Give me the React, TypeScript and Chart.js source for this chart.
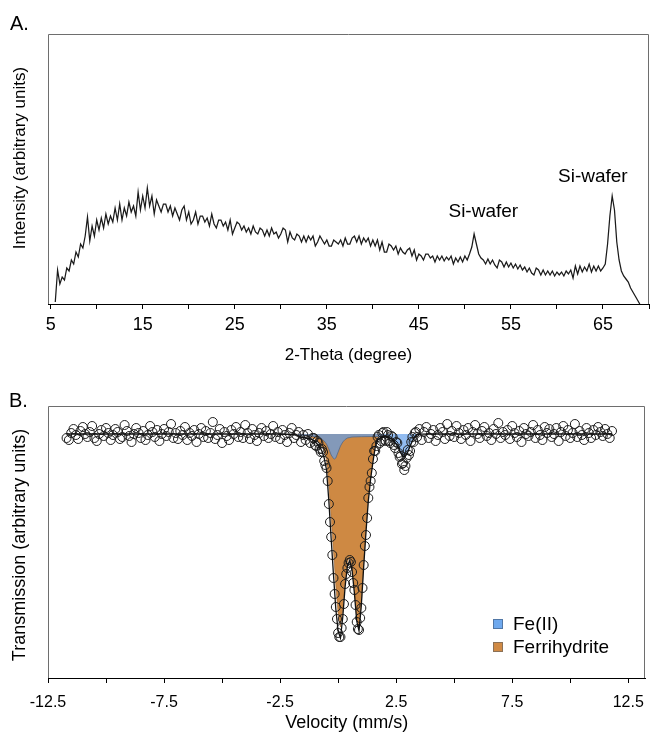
import React, { useEffect, useRef } from "react";
import { Chart, registerables } from "chart.js";

Chart.register(...registerables);

const FONT = "'Liberation Sans', Arial, Helvetica, sans-serif";

/* ================= Panel A : XRD pattern ================= */
const TWO_THETA_START = 5.5;
const TWO_THETA_STEP = 0.25;
const XRD_INTENSITY = [
  2, 34, 20, 27, // 5.5
  24, 36, 33, 44, // 6.5
  40, 52, 47, 60, // 7.5
  56, 68, 87, 63, // 8.5
  78, 68, 84, 74, // 9.5
  86, 76, 90, 80, // 10.5
  88, 82, 96, 84, // 11.5
  100, 84, 96, 88, // 12.5
  102, 92, 98, 88, // 13.5
  112, 94, 108, 96, // 14.5
  116, 98, 108, 90, // 15.5
  104, 98, 92, 100, // 16.5
  100, 92, 98, 88, // 17.5
  96, 90, 84, 94, // 18.5
  98, 84, 92, 80, // 19.5
  84, 92, 80, 88, // 20.5
  88, 82, 86, 78, // 21.5
  90, 80, 76, 84, // 22.5
  84, 78, 82, 74, // 23.5
  84, 70, 76, 82, // 24.5
  80, 74, 78, 72, // 25.5
  76, 70, 78, 72, // 26.5
  70, 76, 74, 68, // 27.5
  74, 68, 76, 70, // 28.5
  72, 66, 70, 76, // 29.5
  74, 62, 72, 66, // 30.5
  64, 70, 68, 62, // 31.5
  68, 62, 68, 64, // 32.5
  68, 58, 62, 68, // 33.5
  64, 60, 64, 58, // 34.5
  58, 64, 62, 60, // 35.5
  64, 58, 66, 60, // 36.5
  60, 66, 68, 62, // 37.5
  68, 60, 66, 62, // 38.5
  66, 58, 64, 58, // 39.5
  64, 54, 62, 52, // 40.5
  52, 60, 58, 54, // 41.5
  58, 50, 56, 52, // 42.5
  50, 54, 56, 48, // 43.5
  54, 44, 50, 48, // 44.5
  44, 50, 50, 46, // 45.5
  48, 42, 48, 44, // 46.5
  48, 43, 47, 44, // 47.5
  48, 40, 46, 42, // 48.5
  47, 42, 48, 44, // 49.5
  50, 57, 70, 60, // 50.5
  50, 46, 44, 40, // 51.5
  45, 40, 44, 39, // 52.5
  36, 44, 42, 37, // 53.5
  42, 37, 41, 36, // 54.5
  40, 35, 39, 34, // 55.5
  37, 32, 36, 31, // 56.5
  29, 36, 34, 29, // 57.5
  34, 29, 33, 29, // 58.5
  33, 28, 32, 29, // 59.5
  32, 28, 33, 30, // 60.5
  34, 26, 38, 30, // 61.5
  38, 32, 37, 33, // 62.5
  40, 32, 38, 33, // 63.5
  38, 33, 36, 40, // 64.5
  60, 88, 108, 94, // 65.5
  62, 44, 33, 28, // 66.5
  25, 22, 16, 12, // 67.5
  8, 4, 0, // 68.5
];
const XRD_TICKS = [5, 10, 15, 20, 25, 30, 35, 40, 45, 50, 55, 60, 65, 70];
const XRD_TICK_LABELS = ["5", "", "15", "", "25", "", "35", "", "45", "", "55", "", "65", ""];
const SI_LABEL_TEXT = ["Si-wafer", "Si-wafer"];
const SI_LABEL_THETA = [52.0, 63.9];
const SI_LABEL_INTENSITY = [92, 127];

/* ================= Panel B : Mössbauer spectrum ================= */
const BASELINE = 244;
const VELOCITY_START = -11.7;
const VELOCITY_STEP = 0.1;
const TRANSMISSION = [
  240, 238, 245, 249, 243, 239, 247, 251, 244, 241,
  246, 252, 240, 237, 244, 248, 242, 250, 245, 238,
  243, 249, 246, 239, 241, 253, 247, 242, 236, 244,
  250, 245, 240, 247, 238, 243, 252, 246, 241, 248,
  237, 244, 249, 242, 246, 254, 240, 245, 239, 247,
  243, 251, 238, 245, 242, 248, 236, 244, 250, 241,
  247, 240, 245, 256, 239, 243, 249, 235, 246, 242,
  238, 248, 244, 251, 241, 246, 240, 253, 245, 239,
  249, 243, 237, 245, 250, 242, 247, 240, 244, 252,
  241, 246, 239, 248, 243, 236, 245, 250, 240, 243,
  246, 236, 243, 238, 244, 235, 240, 233, 237, 229,
  229, 217, 210, 174, 141, 100, 71, 45, 41, 59,
  94, 110, 118, 106, 88, 56, 48, 70, 113, 143,
  180, 197, 219, 227, 241, 235, 245, 238, 246, 237,
  242, 233, 236, 225, 222, 215, 212, 228, 227, 241,
  245, 241, 249, 238, 246, 251, 240, 244, 248, 237,
  243, 250, 246, 239, 254, 242, 247, 241, 252, 245,
  239, 248, 243, 250, 237, 246, 253, 244, 240, 247,
  251, 242, 245, 238, 249, 244, 255, 240, 246, 243,
  248, 239, 252, 245, 241, 247, 236, 250, 244, 242,
  246, 253, 240, 248, 243, 238, 251, 245, 249, 241,
  244, 250, 237, 246, 252, 242, 248, 240, 245, 254,
  241, 247, 243, 238, 250, 245, 240, 248, 243, 251,
  246, 242, 249, 244, 240, 247,
];
const MID_VELOCITY = [
  -1.05, -0.95, -0.85, -0.75, -0.65, -0.55, -0.45, -0.35, -0.25, -0.15,
  -0.05, 0.05, 0.15, 0.25, 0.35, 0.45, 0.55, 0.65, 0.75, 0.85,
  0.95, 1.05, 1.15, 1.25, 1.35, 1.45, 1.55, 1.65, 1.75, 1.85,
  1.95, 2.05, 2.15, 2.25, 2.35, 2.45, 2.55, 2.65, 2.75, 2.85,
  2.95, 3.05, 3.15, 3.25, 3.35,
];
const MID_TRANSMISSION = [
  240, 232, 235, 226, 226, 213, 197, 156, 123, 84,
  59, 41, 50, 74, 104, 115, 116, 95, 73, 49,
  60, 90, 132, 160, 191, 205, 227, 232, 243, 237,
  246, 237, 243, 235, 241, 230, 235, 221, 214, 208,
  220, 223, 236, 236, 246,
];
const FIT_VELOCITY = [
  -11.7, -2.5, -2.0, -1.8,
  -1.7, -1.6, -1.5, -1.4, -1.3, -1.2, -1.1, -1.0, -0.9, -0.8,
  -0.7, -0.6, -0.5, -0.4, -0.3, -0.2, -0.1, 0.0, 0.1, 0.2,
  0.3, 0.4, 0.5, 0.6, 0.7, 0.8, 0.9, 1.0, 1.1, 1.2,
  1.3, 1.4, 1.5, 1.6, 1.7, 1.8, 1.9, 2.0, 2.1, 2.2,
  2.3, 2.4, 2.5, 2.6, 2.7, 2.8, 2.9, 3.0, 3.1, 3.2,
  3.3, 3.4,
  3.6, 4.0, 5.0, 11.8,
];
const FIT_TRANSMISSION = [
  244, 244, 243.5, 243,
  242, 241, 240.5, 240, 239.5, 239, 238, 236.5, 234, 231,
  227, 220, 208, 177, 139, 103, 69, 47, 40, 61,
  91, 112, 117.5, 108, 85, 57, 47, 73, 111, 146,
  177, 199, 216, 231, 238, 240, 241, 241, 241, 240.5,
  239, 237, 234, 230, 225, 221, 222, 226, 232, 237,
  241, 243.5,
  243.8, 244, 244, 244,
];
const FERRI_VELOCITY = [
  -1.75, -1.7, -1.6, -1.5, -1.4, -1.3, -1.2, -1.1, -1.0, -0.9,
  -0.8, -0.7, -0.6, -0.5, -0.4, -0.3, -0.2, -0.1, 0.0, 0.1,
  0.2, 0.3, 0.4, 0.5, 0.6, 0.7, 0.8, 0.9, 1.0, 1.1,
  1.2, 1.3, 1.4, 1.5, 1.6, 1.7, 1.8, 1.9, 2.0,
];
const FERRI_TRANSMISSION = [
  244, 243.5, 243, 242.5, 242, 241.5, 241, 240, 239, 237,
  235, 232, 227, 218, 192, 160, 126, 92, 64, 51,
  68, 96, 116, 121, 111, 88, 60, 50, 76, 114,
  149, 180, 202, 219, 234, 241, 243, 243.5, 244,
];
const FE2_VELOCITY = [
  -1.75, -1.7, -1.4, -1.0, -0.9, -0.8, -0.7, -0.6, -0.5, -0.4,
  -0.3, -0.2, -0.15, -0.1, 0.0, 0.1, 0.2, 0.3, 0.4, 0.5,
  0.6, 1.0, 1.5, 1.9, 2.0, 2.1, 2.2, 2.3, 2.4, 2.5,
  2.6, 2.7, 2.8, 2.85, 2.9, 3.0, 3.1, 3.2, 3.3, 3.35,
  3.4,
];
const FE2_TRANSMISSION = [
  244, 242.5, 242, 241.5, 241, 240, 239, 237, 234, 229,
  223, 219.5, 219, 220, 226, 232, 236, 238.5, 240, 240.5,
  241, 241.3, 241.5, 241.5, 241, 241, 240.5, 239, 237, 234,
  230, 225, 221, 220.5, 221.5, 226, 232, 237, 241, 243,
  244,
];
const VELOCITY_TICKS = [-12.5, -10, -7.5, -5, -2.5, 0, 2.5, 5, 7.5, 10, 12.5];
const VELOCITY_TICK_LABELS = ["-12.5", "", "-7.5", "", "-2.5", "", "2.5", "", "7.5", "", "12.5"];
const LEGEND_LABELS = ["Fe(II)", "Ferrihydrite"];
const LEGEND_COLORS = ["#6fa9ee", "#d08a45"];
const LEGEND_BORDERS = ["#5177a6", "#8b7157"];

const FERRI_FILL = "rgb(206,137,67)";
const FE2_FILL = "rgba(100,160,235,0.7)";

function drawBox(chart: any) {
  const { ctx, chartArea } = chart;
  const { left, right, top, bottom } = chartArea;
  ctx.save();
  ctx.strokeStyle = "#6e6e6e";
  ctx.lineWidth = 1;
  ctx.beginPath();
  ctx.moveTo(Math.round(left) + 0.5, bottom);
  ctx.lineTo(Math.round(left) + 0.5, Math.round(top) + 0.5);
  ctx.lineTo(Math.round(right) - 0.5, Math.round(top) + 0.5);
  ctx.lineTo(Math.round(right) - 0.5, bottom);
  ctx.stroke();
  ctx.restore();
}

function verticalText(ctx: CanvasRenderingContext2D, text: string, x: number, y: number, size: number) {
  ctx.save();
  ctx.translate(x, y);
  ctx.rotate(-Math.PI / 2);
  ctx.font = `${size}px ${FONT}`;
  ctx.textAlign = "center";
  ctx.textBaseline = "middle";
  ctx.fillStyle = "#000";
  ctx.fillText(text, 0, 0);
  ctx.restore();
}

const panelAPlugin = {
  id: "panelA",
  beforeDatasetsDraw(chart: any) {
    drawBox(chart);
  },
  afterDraw(chart: any) {
    const { ctx, chartArea, scales } = chart;
    ctx.save();
    ctx.fillStyle = "#000";
    ctx.font = `20px ${FONT}`;
    ctx.textAlign = "left";
    ctx.textBaseline = "alphabetic";
    ctx.fillText("A.", 10, 30);
    ctx.font = `17px ${FONT}`;
    ctx.textAlign = "center";
    ctx.textBaseline = "middle";
    ctx.fillText("2-Theta (degree)", (chartArea.left + chartArea.right) / 2, 355);
    ctx.font = `19px ${FONT}`;
    SI_LABEL_TEXT.forEach((t, i) => {
      const x = scales.x.getPixelForValue(SI_LABEL_THETA[i]);
      const y = scales.y.getPixelForValue(SI_LABEL_INTENSITY[i]);
      ctx.fillText(t, x, y);
    });
    ctx.restore();
    verticalText(ctx, "Intensity (arbitrary units)", 20, 158, 17);
  },
};

const panelBPlugin = {
  id: "panelB",
  beforeDatasetsDraw(chart: any) {
    drawBox(chart);
  },
  afterDraw(chart: any) {
    const { ctx, chartArea } = chart;
    ctx.save();
    ctx.fillStyle = "#000";
    ctx.font = `20px ${FONT}`;
    ctx.textAlign = "left";
    ctx.textBaseline = "alphabetic";
    ctx.fillText("B.", 9, 37);
    ctx.font = `18px ${FONT}`;
    ctx.textAlign = "center";
    ctx.textBaseline = "middle";
    ctx.fillText("Velocity (mm/s)", (chartArea.left + chartArea.right) / 2, 353);
    ctx.font = `19px ${FONT}`;
    ctx.textAlign = "left";
    LEGEND_LABELS.forEach((label, i) => {
      const sy = 249 + i * 23;
      ctx.fillStyle = LEGEND_COLORS[i];
      ctx.fillRect(493, sy, 10, 10);
      ctx.strokeStyle = LEGEND_BORDERS[i];
      ctx.lineWidth = 1;
      ctx.strokeRect(493.5, sy + 0.5, 9, 9);
      ctx.fillStyle = "#000";
      ctx.fillText(label, 513, sy + 6);
    });
    ctx.restore();
    verticalText(ctx, "Transmission (arbitrary units)", 20, 175, 18);
  },
};

export default function App() {
  const aRef = useRef<HTMLCanvasElement>(null);
  const bRef = useRef<HTMLCanvasElement>(null);

  useEffect(() => {
    const xrdPoints = XRD_INTENSITY.map((y, i) => ({
      x: Math.round((TWO_THETA_START + i * TWO_THETA_STEP) * 1000) / 1000,
      y,
    }));

    const chartA = new Chart(aRef.current as HTMLCanvasElement, {
      type: "line",
      data: {
        datasets: [
          {
            data: xrdPoints as any,
            borderColor: "#1a1a1a",
            borderWidth: 1.25,
            pointRadius: 0,
            tension: 0,
            fill: false,
          },
        ],
      },
      options: {
        responsive: false,
        animation: false,
        devicePixelRatio: 1,
        events: [],
        layout: { padding: { left: 48, right: 4, top: 34, bottom: 0 } },
        plugins: { legend: { display: false }, tooltip: { enabled: false } },
        scales: {
          x: {
            type: "linear",
            min: 4.71,
            max: 70,
            afterBuildTicks: (s: any) => {
              s.ticks = XRD_TICKS.map((v) => ({ value: v }));
            },
            afterFit: (s: any) => {
              s.height = 66;
            },
            grid: { drawOnChartArea: false, drawTicks: true, tickLength: 5, color: "#000", lineWidth: 1 },
            border: { display: true, color: "#000", width: 1 },
            ticks: {
              autoSkip: false,
              maxRotation: 0,
              padding: 5,
              color: "#000",
              font: { family: FONT, size: 18 },
              callback: (_v: any, i: number) => XRD_TICK_LABELS[i] ?? "",
            },
          },
          y: { display: false, min: 0, max: 270 },
        },
      },
      plugins: [panelAPlugin],
    });

    const gridPoints = TRANSMISSION.map((y, i) => ({
      x: Math.round((VELOCITY_START + i * VELOCITY_STEP) * 1000) / 1000,
      y,
    }));
    const midPoints = MID_VELOCITY.map((x, i) => ({ x, y: MID_TRANSMISSION[i] }));
    const fitPoints = FIT_VELOCITY.map((x, i) => ({ x, y: FIT_TRANSMISSION[i] }));
    const ferriPoints = FERRI_VELOCITY.map((x, i) => ({ x, y: FERRI_TRANSMISSION[i] }));
    const fe2Points = FE2_VELOCITY.map((x, i) => ({ x, y: FE2_TRANSMISSION[i] }));

    const chartB = new Chart(bRef.current as HTMLCanvasElement, {
      type: "line",
      data: {
        datasets: [
          {
            label: "fit",
            data: fitPoints as any,
            borderColor: "#111",
            borderWidth: 1.3,
            pointRadius: 0,
            tension: 0,
            fill: false,
            order: 0,
          },
          {
            label: "data",
            data: [...gridPoints, ...midPoints] as any,
            showLine: false,
            pointRadius: 4.5,
            pointBorderWidth: 1,
            pointBorderColor: "#1e1e1e",
            pointBackgroundColor: "rgba(0,0,0,0)",
            fill: false,
            order: 1,
          },
          {
            label: "Fe(II)",
            data: fe2Points as any,
            borderColor: "rgba(85,105,135,0.8)",
            borderWidth: 1,
            backgroundColor: FE2_FILL,
            pointRadius: 0,
            tension: 0,
            fill: { value: BASELINE },
            order: 2,
          },
          {
            label: "Ferrihydrite",
            data: ferriPoints as any,
            borderColor: "rgba(160,100,45,0.7)",
            borderWidth: 0.8,
            backgroundColor: FERRI_FILL,
            pointRadius: 0,
            tension: 0,
            fill: { value: BASELINE },
            order: 3,
          },
        ],
      },
      options: {
        responsive: false,
        animation: false,
        devicePixelRatio: 1,
        events: [],
        layout: { padding: { left: 48, right: 4, top: 36, bottom: 0 } },
        plugins: { legend: { display: false }, tooltip: { enabled: false } },
        scales: {
          x: {
            type: "linear",
            min: -12.5,
            max: 13.24,
            afterBuildTicks: (s: any) => {
              s.ticks = VELOCITY_TICKS.map((v) => ({ value: v }));
            },
            afterFit: (s: any) => {
              s.height = 54;
            },
            grid: { drawOnChartArea: false, drawTicks: true, tickLength: 5, color: "#000", lineWidth: 1 },
            border: { display: true, color: "#000", width: 1 },
            ticks: {
              autoSkip: false,
              maxRotation: 0,
              padding: 10,
              color: "#000",
              font: { family: FONT, size: 16 },
              callback: (_v: any, i: number) => VELOCITY_TICK_LABELS[i] ?? "",
            },
          },
          y: { display: false, min: 0, max: 272 },
        },
      },
      plugins: [panelBPlugin],
    });

    return () => {
      chartA.destroy();
      chartB.destroy();
    };
  }, []);

  return (
    <div
      style={{
        position: "absolute",
        left: 0,
        top: 0,
        width: 654,
        height: 732,
        background: "#fff",
        overflow: "hidden",
      }}
    >
      <canvas
        ref={aRef}
        width={654}
        height={370}
        style={{ position: "absolute", left: 0, top: 0, width: 654, height: 370 }}
      />
      <canvas
        ref={bRef}
        width={654}
        height={362}
        style={{ position: "absolute", left: 0, top: 370, width: 654, height: 362 }}
      />
    </div>
  );
}
